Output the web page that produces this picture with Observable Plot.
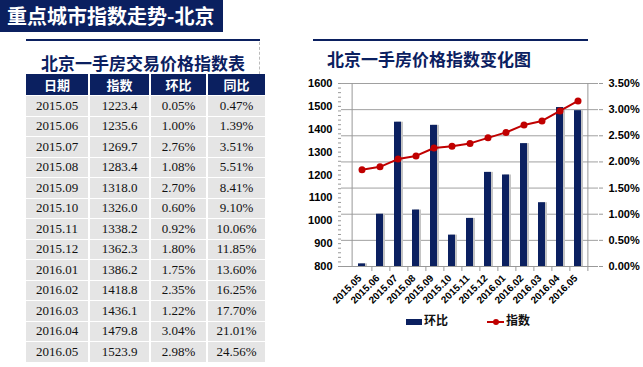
<!DOCTYPE html>
<html><head><meta charset="utf-8">
<script src="https://cdn.jsdelivr.net/npm/d3@7"></script>
<script src="https://cdn.jsdelivr.net/npm/@observablehq/plot@0.6"></script>
<style>
body{margin:0;background:#fff;width:643px;height:367px;overflow:hidden;position:relative;font-family:"Liberation Sans","Noto Sans CJK SC",sans-serif;}
.banner{position:absolute;left:0;top:0;width:223px;height:32px;background:#0b2060;color:#fff;font:bold 20px "Noto Sans CJK SC",sans-serif;line-height:32px;padding-left:7px;box-sizing:border-box;letter-spacing:0px;}
.rule{position:absolute;height:2px;background:#0b2060;}
.ttl{position:absolute;color:#0b2060;font:bold 17px "Noto Sans CJK SC",sans-serif;white-space:nowrap;}
table{position:absolute;left:26px;top:74px;border-collapse:collapse;}
th{background:#0b2060;color:#fff;font:bold 13px "Noto Sans CJK SC",sans-serif;height:21px;padding:0;border-left:2px solid #fff;}
td{background:#e5e5e5;font:13px "Liberation Serif",serif;color:#111;text-align:center;height:19.5px;padding:0;border-top:1.5px solid #fff;border-left:2px solid #fff;}
th:first-child,td:first-child{border-left:none;}
.dash{position:absolute;left:259px;top:42px;height:52px;border-left:1px dashed #bbb;}
#chart{position:absolute;left:290px;top:70px;}
.legend{position:absolute;top:311px;font:bold 12px "Noto Sans CJK SC",sans-serif;color:#111;}
</style></head>
<body>
<script>
const months = ["2015.05","2015.06","2015.07","2015.08","2015.09","2015.10","2015.11","2015.12","2016.01","2016.02","2016.03","2016.04","2016.05"];
const indexVals = [1223.4,1235.6,1269.7,1283.4,1318.0,1326.0,1338.2,1362.3,1386.2,1418.8,1436.1,1479.8,1523.9];
const momVals = [0.05,1.00,2.76,1.08,2.70,0.60,0.92,1.80,1.75,2.35,1.22,3.04,2.98];
const yoyVals = [0.47,1.39,3.51,5.51,8.41,9.10,10.06,11.85,13.60,16.25,17.70,21.01,24.56];
const headers = ["日期","指数","环比","同比"];
const leftTicks = [800,900,1000,1100,1200,1300,1400,1500,1600];
const rightTicks = [0,0.5,1.0,1.5,2.0,2.5,3.0,3.5];
const mainTitle = "重点城市指数走势-北京";
const tableTitle = "北京一手房交易价格指数表";
const chartTitle = "北京一手房价格指数变化图";
const legendLabels = ["环比","指数"];
</script>
<div class="banner"></div>
<div class="rule" style="left:26px;top:39px;width:234px"></div>
<div class="dash"></div>
<div class="ttl" id="tt" style="left:41px;top:50px"></div>
<div class="rule" style="left:313px;top:39px;width:275px"></div>
<div class="ttl" id="ct" style="left:327px;top:46px"></div>
<table id="tbl"></table>
<div id="chart"></div>
<div class="legend" style="left:406px"><span style="display:inline-block;width:16px;height:6px;background:#0b2060;vertical-align:middle;margin-right:2px"></span><span id="l1"></span></div>
<div class="legend" style="left:487px"><svg width="17" height="8" style="vertical-align:middle;margin-right:2px"><line x1="0" y1="4" x2="17" y2="4" stroke="#c00000" stroke-width="2"/><circle cx="9" cy="4" r="3" fill="#c00000"/></svg><span id="l2"></span></div>
<script>
document.querySelector(".banner").textContent = mainTitle;
document.getElementById("tt").textContent = tableTitle;
document.getElementById("ct").textContent = chartTitle;
document.getElementById("l1").textContent = legendLabels[0];
document.getElementById("l2").textContent = legendLabels[1];
const widths = [62,59,55,57];
const tbl = document.getElementById("tbl");
let h = "<tr>" + headers.map((t,i)=>`<th style="width:${widths[i]}px">${t}</th>`).join("") + "</tr>";
months.forEach((m,i)=>{
  h += `<tr><td>${m}</td><td>${indexVals[i].toFixed(1)}</td><td>${momVals[i].toFixed(2)}%</td><td>${yoyVals[i].toFixed(2)}%</td></tr>`;
});
tbl.innerHTML = h;

const data = months.map((m,i)=>({month:m, index:indexVals[i], mom:momVals[i]}));
const pctToY = p => 800 + p/3.5*800;
const W = 353, ML = 51, MR = 45;
const step = (W-ML-MR)/months.length;
const chart = Plot.plot({
  width: W, height: 250, marginLeft: ML, marginRight: MR, marginTop: 13, marginBottom: 54,
  style: {fontFamily:"Liberation Sans, Noto Sans CJK SC, sans-serif", fontSize:"11px", fontWeight:"bold", color:"#000", background:"transparent", overflow:"visible"},
  x: {type:"band", domain: months, padding: 0.6, align: 0.5},
  y: {domain:[800,1600]},
  marks: [
    Plot.ruleY(rightTicks.map(pctToY), {stroke:"#a0a0a0", strokeWidth:1}),
    Plot.barY(data, {x:"month", y1:800, y2:d=>pctToY(d.mom), fill:"#c4c4c4", dx:2, dy:0}),
    Plot.barY(data, {x:"month", y1:800, y2:d=>pctToY(d.mom), fill:"#0b2060"}),
    Plot.line(data, {x:"month", y:"index", stroke:"#c00000", strokeWidth:2}),
    Plot.dot(data, {x:"month", y:"index", r:3.5, fill:"#c00000"}),
    Plot.ruleX([months[0]], {dx:-step/2, stroke:"#999"}),
    Plot.ruleX([months[months.length-1]], {dx:step/2, stroke:"#999"}),
    Plot.ruleY([800], {stroke:"#999"}),
    Plot.axisY(d3.range(800,1601,20), {anchor:"left", tickSize:3, stroke:"#999", fill:"#000", tickPadding:6, tickFormat:d=> d%100===0 ? String(d) : "", label:null}),
    Plot.axisY(rightTicks.map(pctToY), {anchor:"right", tickSize:4, stroke:"#999", fill:"#000", tickPadding:6, tickFormat:d=> ((d-800)/800*3.5).toFixed(2)+"%", label:null}),
    Plot.axisX({tickSize:5, stroke:"#999", tickFormat:()=>"", dx:step/2, label:null}),
    Plot.axisX({tickSize:0, tickRotate:-45, fontSize:10, fill:"#000", tickPadding:4, dy:6, dx:-2, label:null})
  ]
});
document.getElementById("chart").appendChild(chart);
</script>
</body></html>
